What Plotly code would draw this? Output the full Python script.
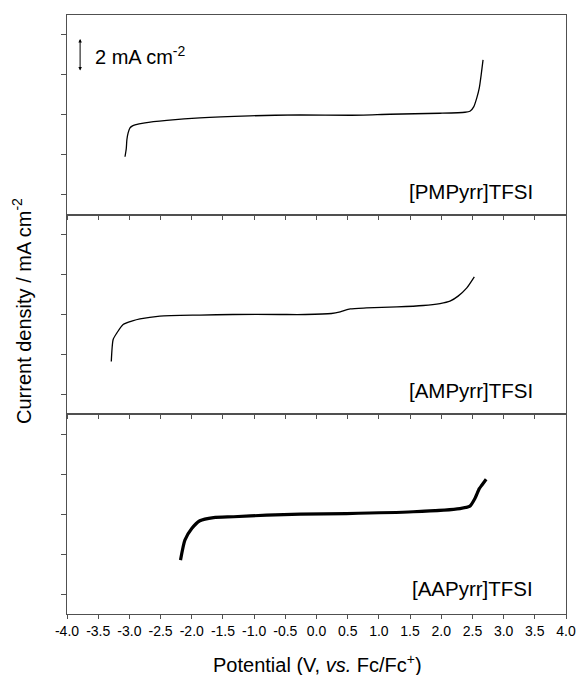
import plotly.graph_objects as go
from plotly.subplots import make_subplots

# ---- data ----
pmpyrr_v = [-3.07, -3.05, -3.04, -3.02, -2.99, -2.95, -2.91, -2.75, -2.40, -1.87, -1.07, -0.26,
            0.54, 1.18, 1.98, 2.38, 2.46, 2.52, 2.57, 2.61, 2.64, 2.67]
pmpyrr_j = [2.90, 3.30, 3.75, 4.10, 4.35, 4.45, 4.50, 4.60, 4.72, 4.85, 4.95, 5.00,
            4.98, 5.03, 5.08, 5.13, 5.18, 5.40, 5.85, 6.35, 7.00, 7.75]

ampyrr_v = [-3.29, -3.26, -3.20, -3.10, -2.95, -2.83, -2.51, -1.87, -1.34, -0.59, -0.18, 0.24,
            0.38, 0.54, 0.80, 1.29, 1.71, 1.98, 2.14, 2.27, 2.41, 2.53]
ampyrr_j = [2.65, 3.75, 4.08, 4.50, 4.68, 4.78, 4.92, 4.97, 5.00, 5.00, 5.00, 5.05,
            5.13, 5.28, 5.33, 5.38, 5.45, 5.55, 5.67, 5.92, 6.33, 6.88]

aapyrr_v = [-2.18, -2.11, -2.00, -1.87, -1.65, -1.33, -0.80, -0.26, 0.48, 1.55, 2.30, 2.46,
            2.54, 2.61, 2.65, 2.72]
aapyrr_j = [2.70, 3.70, 4.28, 4.67, 4.83, 4.87, 4.95, 5.00, 5.03, 5.12, 5.28, 5.40,
            5.78, 6.28, 6.45, 6.75]

names = ["[PMPyrr]TFSI", "[AMPyrr]TFSI", "[AAPyrr]TFSI"]
x_ticks = [-4.0, -3.5, -3.0, -2.5, -2.0, -1.5, -1.0, -0.5, 0.0, 0.5, 1.0, 1.5, 2.0, 2.5, 3.0, 3.5, 4.0]
x_tick_labels = ["-4.0", "-3.5", "-3.0", "-2.5", "-2.0", "-1.5", "-1.0", "-0.5", "0.0", "0.5",
                 "1.0", "1.5", "2.0", "2.5", "3.0", "3.5", "4.0"]
y_ticks = [1, 3, 5, 7, 9]
scale_bar = [7.15, 8.8]  # 2 mA cm-2 scale bar (panel units)
scale_label = "2 mA cm<sup>-2</sup>"

FONT = "Arial, 'Liberation Sans', sans-serif"
AX = "#505050"

fig = make_subplots(rows=3, cols=1, shared_xaxes=True, vertical_spacing=0)

series = [(pmpyrr_v, pmpyrr_j, 1.3), (ampyrr_v, ampyrr_j, 1.3), (aapyrr_v, aapyrr_j, 3.2)]
for i, (v, j, w) in enumerate(series, start=1):
    fig.add_trace(go.Scatter(x=v, y=j, mode="lines", line=dict(color="black", width=w, shape="spline", smoothing=0.6),
                             showlegend=False, hoverinfo="skip"), row=i, col=1)
    fig.update_yaxes(range=[0, 10], tickvals=y_ticks, showticklabels=False, ticks="outside", ticklen=5,
                     tickcolor=AX, showline=True, linecolor=AX, linewidth=1.2, mirror=True,
                     showgrid=False, zeroline=False, automargin=False, row=i, col=1)
    fig.update_xaxes(range=[-4, 4], tickvals=x_ticks, ticktext=x_tick_labels, ticks="outside", ticklen=4,
                     tickcolor=AX, showline=True, linecolor=AX, linewidth=1.2, mirror=True, showgrid=False,
                     zeroline=False, showticklabels=(i == 3), automargin=False, row=i, col=1)
    yref = "y" if i == 1 else f"y{i}"
    xref = "x" if i == 1 else f"x{i}"
    label_y = [1.15, 1.2, 1.3][i - 1]
    fig.add_annotation(x=3.5, y=label_y, xref=xref, yref=yref, text=names[i - 1], showarrow=False,
                       xanchor="right", yanchor="middle", font=dict(size=20.5, color="black", family=FONT))

fig.update_xaxes(tickfont=dict(size=14, color="black", family=FONT), row=3, col=1)

# scale bar
fig.add_annotation(x=-3.79, y=scale_bar[1], ax=-3.79, ay=scale_bar[0], xref="x", yref="y", axref="x", ayref="y",
                   text="", showarrow=True, arrowhead=2, startarrowhead=2, arrowside="end+start",
                   arrowsize=0.7, startarrowsize=0.7, arrowwidth=1, arrowcolor="black")
fig.add_annotation(x=-3.59, y=(scale_bar[0] + scale_bar[1]) / 2, xref="x", yref="y", text=scale_label,
                   showarrow=False, xanchor="left", yanchor="middle",
                   font=dict(size=20, color="black", family=FONT))

# axis titles
fig.add_annotation(x=-0.09, y=0.506, xref="paper", yref="paper", text="Current density / mA cm<sup>-2</sup>",
                   textangle=-90, showarrow=False, xanchor="center", yanchor="middle",
                   font=dict(size=20, color="black", family=FONT))
fig.add_annotation(x=0.502, y=-0.082, xref="paper", yref="paper", text="Potential (V, <i>vs.</i> Fc/Fc<sup>+</sup>)",
                   showarrow=False, xanchor="center", yanchor="middle",
                   font=dict(size=20, color="black", family=FONT))

fig.update_layout(width=576, height=675, margin=dict(l=67, r=10, t=15, b=61, autoexpand=False),
                  paper_bgcolor="white", plot_bgcolor="white", font=dict(family=FONT, color="black"))

fig.write_html("out.html", config={"displayModeBar": False},
               post_script="document.body.style.margin='0';document.body.style.padding='0';document.body.style.overflow='hidden';")
